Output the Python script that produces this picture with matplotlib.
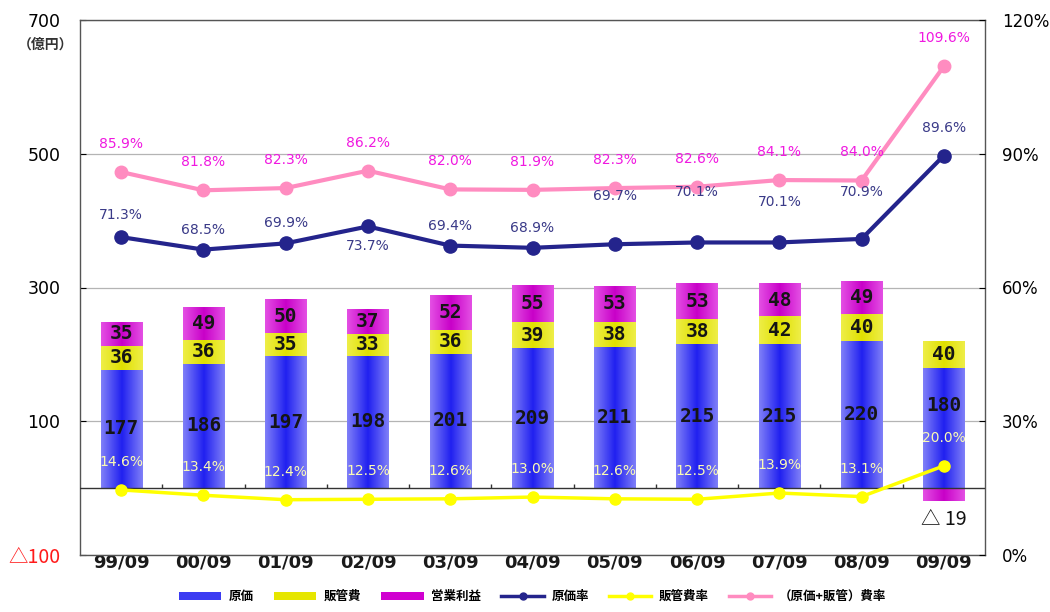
import numpy as np
import matplotlib
matplotlib.use("Agg")
import matplotlib.pyplot as plt
from matplotlib.colors import LinearSegmentedColormap
from matplotlib.patches import Patch
from matplotlib.lines import Line2D

plt.rcParams['font.family'] = ['DejaVu Sans', 'Noto Sans CJK JP']

# ---- data ----
periods = ["99/09", "00/09", "01/09", "02/09", "03/09", "04/09",
           "05/09", "06/09", "07/09", "08/09", "09/09"]
cost = [177, 186, 197, 198, 201, 209, 211, 215, 215, 220, 180]          # 原価
sga = [36, 36, 35, 33, 36, 39, 38, 38, 42, 40, 40]                      # 販管費
op_profit = [35, 49, 50, 37, 52, 55, 53, 53, 48, 49, -19]               # 営業利益
cost_ratio = [71.3, 68.5, 69.9, 73.7, 69.4, 68.9, 69.7, 70.1, 70.1, 70.9, 89.6]
sga_ratio = [14.6, 13.4, 12.4, 12.5, 12.6, 13.0, 12.6, 12.5, 13.9, 13.1, 20.0]
total_ratio = [85.9, 81.8, 82.3, 86.2, 82.0, 81.9, 82.3, 82.6, 84.1, 84.0, 109.6]

left_ticks = [-100, 100, 300, 500, 700]
right_ticks = [0, 30, 60, 90, 120]

# label offsets (pixels)
cost_ratio_off = [22, 20, 20, -20, 20, 20, 48, 50, 40, 47, 28]
cost_label_off = [0, 0, 0, 0, 0, 0, 0, 0, 0, 0, 22]

JP = ['Noto Sans CJK JP', 'DejaVu Sans']
PX = 0.72  # points per pixel at 100 dpi

fig = plt.figure(figsize=(10.5, 6.12), dpi=100)
ax = fig.add_axes([80 / 1050, 57 / 612, 905 / 1050, 535 / 612])
x = np.arange(len(periods))
width = 0.5

def shade(bars, edge, center):
    cmap = LinearSegmentedColormap.from_list("g", [edge, center, edge])
    grad = np.linspace(0, 1, 128).reshape(1, -1)
    for p in bars:
        x0, y0, w, h = p.get_x(), p.get_y(), p.get_width(), p.get_height()
        ax.imshow(grad, cmap=cmap, extent=(x0, x0 + w, y0, y0 + h),
                  aspect='auto', zorder=2, interpolation='bilinear')
        p.set_visible(False)

cost_b = ax.bar(x, cost, width, color='#4646f0', zorder=2)
sga_b = ax.bar(x, sga, width, bottom=cost, color='#e6e600', zorder=2)
prof_bottom = [c + s if p >= 0 else 0 for c, s, p in zip(cost, sga, op_profit)]
prof_b = ax.bar(x, op_profit, width, bottom=prof_bottom, color='#d000d0', zorder=2)
shade(cost_b, '#8080f8', '#2020f0')
shade(sga_b, '#eeee48', '#e0e000')
shade(prof_b, '#e450e4', '#c800c8')

# values inside the bars
mono = dict(family='DejaVu Sans Mono', fontsize=14, fontweight='bold',
            color='#151515', ha='center', va='center', zorder=5)
for i in range(len(x)):
    ax.annotate(f"{cost[i]}", (x[i], cost[i] / 2),
                xytext=(0, cost_label_off[i] * PX), textcoords='offset points',
                **mono)
    ax.text(x[i], cost[i] + sga[i] / 2, f"{sga[i]}", **mono)
    if op_profit[i] >= 0:
        ax.text(x[i], prof_bottom[i] + op_profit[i] / 2, f"{op_profit[i]}", **mono)
    else:
        ax.annotate(f"△ {abs(op_profit[i])}", (x[i], op_profit[i]),
                    xytext=(0, -19 * PX), textcoords='offset points',
                    ha='center', va='center', fontsize=14, color='#111111',
                    family=JP, zorder=5)

ax.set_xlim(-0.5, len(x) - 0.5)
ax.set_ylim(-100, 700)
ax.set_yticks(left_ticks)
ax.set_yticklabels(["△100" if v < 0 else str(v) for v in left_ticks],
                   fontsize=12.5)
neg = ax.get_yticklabels()[0]
neg.set_color('#ff1a1a')
neg.set_fontfamily(JP)
neg.set_fontsize(14)
ax.yaxis.grid(True, color='#b4b4b4', lw=0.9, zorder=0)
ax.set_axisbelow(True)
ax.tick_params(axis='y', direction='in', length=4, pad=14)
ax.set_xticks(x)
ax.set_xticklabels(periods, fontsize=13, fontweight='bold', color='#1a1a1a')
ax.tick_params(axis='x', length=0, pad=-1)
for s in ax.spines.values():
    s.set_color('#555555')
    s.set_linewidth(1.0)

# zero line with small separators between periods
ax.axhline(0, color='#333333', lw=1.0, zorder=3)
ax.vlines(x[:-1] + 0.5, 0, 6, color='#333333', lw=1.0, zorder=3)

fig.text(46 / 1050, 1 - 45 / 612, "（億円）", family=JP, fontsize=10,
         fontweight='bold', ha='center', va='center', color='#333333')

# ratio lines on the right-hand scale
ax2 = ax.twinx()
ax2.set_ylim(0, 120)
ax2.set_yticks(right_ticks)
ax2.set_yticklabels([f"{v}%" for v in right_ticks], fontsize=12)
ax2.tick_params(axis='y', direction='in', length=4, pad=12)
for s in ax2.spines.values():
    s.set_visible(False)

ax2.plot(x, total_ratio, color='#ff8cc0', lw=3, marker='o', ms=9, zorder=3)
ax2.plot(x, cost_ratio, color='#24248c', lw=3, marker='o', ms=9.5, zorder=4)
ax2.plot(x, sga_ratio, color='#ffff00', lw=2.5, marker='o', ms=8, zorder=4)

for i in range(len(x)):
    ax2.annotate(f"{total_ratio[i]:.1f}%", (x[i], total_ratio[i]),
                 xytext=(0, 28 * PX), textcoords='offset points',
                 ha='center', va='center', fontsize=10, color='#f018e0')
    ax2.annotate(f"{cost_ratio[i]:.1f}%", (x[i], cost_ratio[i]),
                 xytext=(0, cost_ratio_off[i] * PX), textcoords='offset points',
                 ha='center', va='center', fontsize=10, color='#3a3a88')
    ax2.annotate(f"{sga_ratio[i]:.1f}%", (x[i], sga_ratio[i]),
                 xytext=(0, 28 * PX), textcoords='offset points',
                 ha='center', va='center', fontsize=10, color='#fbfbb4')

handles = [
    Patch(facecolor='#3c3cf2', label='原価'),
    Patch(facecolor='#e6e600', label='販管費'),
    Patch(facecolor='#d000d0', label='営業利益'),
    Line2D([], [], color='#24248c', lw=2.5, marker='o', ms=5, label='原価率'),
    Line2D([], [], color='#ffff00', lw=2.5, marker='o', ms=5, label='販管費率'),
    Line2D([], [], color='#ff8cc0', lw=2.5, marker='o', ms=5, label='（原価+販管）費率'),
]
ax.legend(handles=handles, loc='center', bbox_to_anchor=(0.5, -0.078),
          ncol=6, frameon=False, prop=dict(family=JP, size=9, weight='bold'),
          handlelength=3.4, handleheight=0.6, columnspacing=1.6,
          handletextpad=0.6)

fig.savefig("out.png", dpi=100)
